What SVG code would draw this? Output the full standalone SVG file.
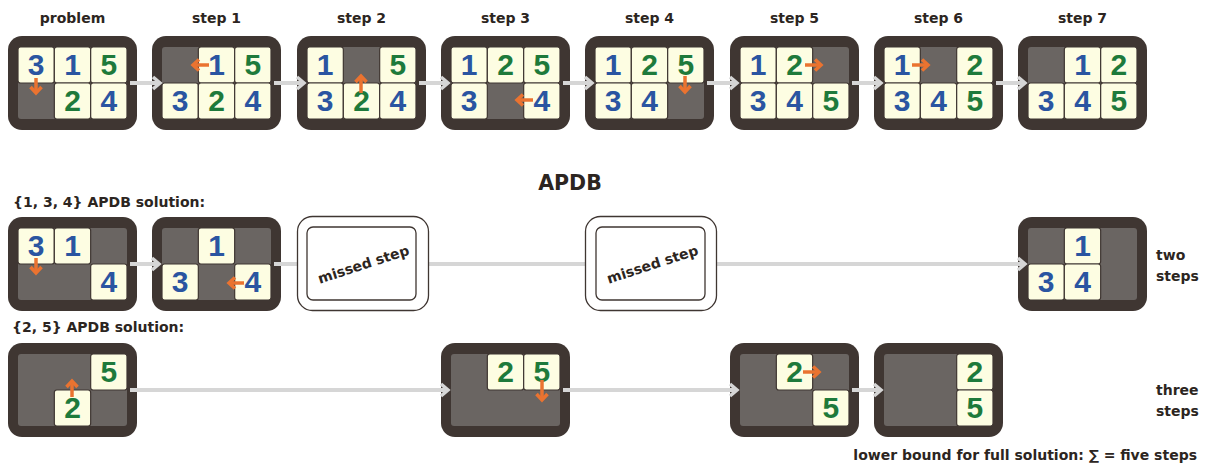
<svg xmlns="http://www.w3.org/2000/svg" width="1211" height="466" viewBox="0 0 1211 466">
<style>
.bd{fill:#3f3632}
.in{fill:#6a6562}
.t{fill:#fdfde2;stroke:#3f3632;stroke-width:1.2}
.n{font-family:"Liberation Sans",Arial,sans-serif;font-weight:bold;font-size:30px;text-anchor:middle}
.b{fill:#2a55a1}
.g{fill:#1e7a3b}
.lb{font-family:"DejaVu Sans",Verdana,sans-serif;font-weight:bold;font-size:14px;fill:#2c2521}
.c{text-anchor:middle}
.ti{font-size:20.5px}
.cn{stroke:#d6d6d6;stroke-width:4;fill:none;marker-end:url(#chev)}
.oa{stroke:#ea7330;stroke-width:3.5;fill:none;marker-end:url(#oh)}
.ms{fill:#fff;stroke:#3f3632;stroke-width:1.3}
</style>
<defs>
<marker id="chev" viewBox="-10 -9 14 18" refX="0" refY="0" markerWidth="14" markerHeight="18" markerUnits="userSpaceOnUse" orient="auto">
<path d="M-7,-6 L0,0 L-7,6" fill="none" stroke="#d6d6d6" stroke-width="3.5"/>
</marker>
<marker id="oh" viewBox="-10 -9 14 18" refX="0" refY="0" markerWidth="14" markerHeight="18" markerUnits="userSpaceOnUse" orient="auto">
<path d="M-6,-5.5 L0,0 L-6,5.5" fill="none" stroke="#ea7330" stroke-width="3.5"/>
</marker>
</defs>
<rect width="1211" height="466" fill="#fff"/>

<g id="labels">
<text class="lb c" x="72.5" y="23">problem</text>
<text class="lb c" x="216.5" y="23">step 1</text>
<text class="lb c" x="361.5" y="23">step 2</text>
<text class="lb c" x="505.5" y="23">step 3</text>
<text class="lb c" x="649.5" y="23">step 4</text>
<text class="lb c" x="794.5" y="23">step 5</text>
<text class="lb c" x="938.5" y="23">step 6</text>
<text class="lb c" x="1082.5" y="23">step 7</text>
<text class="lb c ti" x="570" y="190">APDB</text>
<text class="lb" x="13" y="207">{1, 3, 4} APDB solution:</text>
<text class="lb" x="12" y="332">{2, 5} APDB solution:</text>
<text class="lb" x="1156" y="260">two</text>
<text class="lb" x="1156" y="281">steps</text>
<text class="lb" x="1156" y="395">three</text>
<text class="lb" x="1156" y="416">steps</text>
<text class="lb" x="1197" y="460" text-anchor="end">lower bound for full solution: ∑ = five steps</text>
</g>

<!-- Row 1 -->
<g id="problem" transform="translate(8,36)">
<rect class="bd" width="129" height="94" rx="14"/><rect class="in" x="10" y="11" width="109" height="72" rx="3"/>
<rect class="t" x="10" y="11" width="36.33" height="36" rx="2.5"/><text class="n b" x="28.2" y="39">3</text>
<rect class="t" x="46.33" y="11" width="36.33" height="36" rx="2.5"/><text class="n b" x="64.5" y="39">1</text>
<rect class="t" x="82.67" y="11" width="36.33" height="36" rx="2.5"/><text class="n g" x="100.8" y="39">5</text>
<rect class="t" x="46.33" y="47" width="36.33" height="36" rx="2.5"/><text class="n g" x="64.5" y="75">2</text>
<rect class="t" x="82.67" y="47" width="36.33" height="36" rx="2.5"/><text class="n b" x="100.8" y="75">4</text>
<path class="oa" d="M28,42 V57"/>
</g>
<g id="step1" transform="translate(152,36)">
<rect class="bd" width="129" height="94" rx="14"/><rect class="in" x="10" y="11" width="109" height="72" rx="3"/>
<rect class="t" x="46.33" y="11" width="36.33" height="36" rx="2.5"/><text class="n b" x="64.5" y="39">1</text>
<rect class="t" x="82.67" y="11" width="36.33" height="36" rx="2.5"/><text class="n g" x="100.8" y="39">5</text>
<rect class="t" x="10" y="47" width="36.33" height="36" rx="2.5"/><text class="n b" x="28.2" y="75">3</text>
<rect class="t" x="46.33" y="47" width="36.33" height="36" rx="2.5"/><text class="n g" x="64.5" y="75">2</text>
<rect class="t" x="82.67" y="47" width="36.33" height="36" rx="2.5"/><text class="n b" x="100.8" y="75">4</text>
<path class="oa" d="M57,29 H41"/>
</g>
<g id="step2" transform="translate(297,36)">
<rect class="bd" width="129" height="94" rx="14"/><rect class="in" x="10" y="11" width="109" height="72" rx="3"/>
<rect class="t" x="10" y="11" width="36.33" height="36" rx="2.5"/><text class="n b" x="28.2" y="39">1</text>
<rect class="t" x="82.67" y="11" width="36.33" height="36" rx="2.5"/><text class="n g" x="100.8" y="39">5</text>
<rect class="t" x="10" y="47" width="36.33" height="36" rx="2.5"/><text class="n b" x="28.2" y="75">3</text>
<rect class="t" x="46.33" y="47" width="36.33" height="36" rx="2.5"/><text class="n g" x="64.5" y="75">2</text>
<rect class="t" x="82.67" y="47" width="36.33" height="36" rx="2.5"/><text class="n b" x="100.8" y="75">4</text>
<path class="oa" d="M64,57 V40"/>
</g>
<g id="step3" transform="translate(441,36)">
<rect class="bd" width="129" height="94" rx="14"/><rect class="in" x="10" y="11" width="109" height="72" rx="3"/>
<rect class="t" x="10" y="11" width="36.33" height="36" rx="2.5"/><text class="n b" x="28.2" y="39">1</text>
<rect class="t" x="46.33" y="11" width="36.33" height="36" rx="2.5"/><text class="n g" x="64.5" y="39">2</text>
<rect class="t" x="82.67" y="11" width="36.33" height="36" rx="2.5"/><text class="n g" x="100.8" y="39">5</text>
<rect class="t" x="10" y="47" width="36.33" height="36" rx="2.5"/><text class="n b" x="28.2" y="75">3</text>
<rect class="t" x="82.67" y="47" width="36.33" height="36" rx="2.5"/><text class="n b" x="100.8" y="75">4</text>
<path class="oa" d="M92,64 H76"/>
</g>
<g id="step4" transform="translate(585,36)">
<rect class="bd" width="129" height="94" rx="14"/><rect class="in" x="10" y="11" width="109" height="72" rx="3"/>
<rect class="t" x="10" y="11" width="36.33" height="36" rx="2.5"/><text class="n b" x="28.2" y="39">1</text>
<rect class="t" x="46.33" y="11" width="36.33" height="36" rx="2.5"/><text class="n g" x="64.5" y="39">2</text>
<rect class="t" x="82.67" y="11" width="36.33" height="36" rx="2.5"/><text class="n g" x="100.8" y="39">5</text>
<rect class="t" x="10" y="47" width="36.33" height="36" rx="2.5"/><text class="n b" x="28.2" y="75">3</text>
<rect class="t" x="46.33" y="47" width="36.33" height="36" rx="2.5"/><text class="n b" x="64.5" y="75">4</text>
<path class="oa" d="M100,40 V56"/>
</g>
<g id="step5" transform="translate(730,36)">
<rect class="bd" width="129" height="94" rx="14"/><rect class="in" x="10" y="11" width="109" height="72" rx="3"/>
<rect class="t" x="10" y="11" width="36.33" height="36" rx="2.5"/><text class="n b" x="28.2" y="39">1</text>
<rect class="t" x="46.33" y="11" width="36.33" height="36" rx="2.5"/><text class="n g" x="64.5" y="39">2</text>
<rect class="t" x="10" y="47" width="36.33" height="36" rx="2.5"/><text class="n b" x="28.2" y="75">3</text>
<rect class="t" x="46.33" y="47" width="36.33" height="36" rx="2.5"/><text class="n b" x="64.5" y="75">4</text>
<rect class="t" x="82.67" y="47" width="36.33" height="36" rx="2.5"/><text class="n g" x="100.8" y="75">5</text>
<path class="oa" d="M75,29 H91"/>
</g>
<g id="step6" transform="translate(874,36)">
<rect class="bd" width="129" height="94" rx="14"/><rect class="in" x="10" y="11" width="109" height="72" rx="3"/>
<rect class="t" x="10" y="11" width="36.33" height="36" rx="2.5"/><text class="n b" x="28.2" y="39">1</text>
<rect class="t" x="82.67" y="11" width="36.33" height="36" rx="2.5"/><text class="n g" x="100.8" y="39">2</text>
<rect class="t" x="10" y="47" width="36.33" height="36" rx="2.5"/><text class="n b" x="28.2" y="75">3</text>
<rect class="t" x="46.33" y="47" width="36.33" height="36" rx="2.5"/><text class="n b" x="64.5" y="75">4</text>
<rect class="t" x="82.67" y="47" width="36.33" height="36" rx="2.5"/><text class="n g" x="100.8" y="75">5</text>
<path class="oa" d="M38,29 H54"/>
</g>
<g id="step7" transform="translate(1018,36)">
<rect class="bd" width="129" height="94" rx="14"/><rect class="in" x="10" y="11" width="109" height="72" rx="3"/>
<rect class="t" x="46.33" y="11" width="36.33" height="36" rx="2.5"/><text class="n b" x="64.5" y="39">1</text>
<rect class="t" x="82.67" y="11" width="36.33" height="36" rx="2.5"/><text class="n g" x="100.8" y="39">2</text>
<rect class="t" x="10" y="47" width="36.33" height="36" rx="2.5"/><text class="n b" x="28.2" y="75">3</text>
<rect class="t" x="46.33" y="47" width="36.33" height="36" rx="2.5"/><text class="n b" x="64.5" y="75">4</text>
<rect class="t" x="82.67" y="47" width="36.33" height="36" rx="2.5"/><text class="n g" x="100.8" y="75">5</text>
</g>

<!-- Row 2 -->
<g id="apdb134-a" transform="translate(8,217)">
<rect class="bd" width="129" height="94" rx="14"/><rect class="in" x="10" y="11" width="109" height="72" rx="3"/>
<rect class="t" x="10" y="11" width="36.33" height="36" rx="2.5"/><text class="n b" x="28.2" y="39">3</text>
<rect class="t" x="46.33" y="11" width="36.33" height="36" rx="2.5"/><text class="n b" x="64.5" y="39">1</text>
<rect class="t" x="82.67" y="47" width="36.33" height="36" rx="2.5"/><text class="n b" x="100.8" y="75">4</text>
<path class="oa" d="M28,41 V56"/>
</g>
<g id="apdb134-b" transform="translate(152,217)">
<rect class="bd" width="129" height="94" rx="14"/><rect class="in" x="10" y="11" width="109" height="72" rx="3"/>
<rect class="t" x="46.33" y="11" width="36.33" height="36" rx="2.5"/><text class="n b" x="64.5" y="39">1</text>
<rect class="t" x="10" y="47" width="36.33" height="36" rx="2.5"/><text class="n b" x="28.2" y="75">3</text>
<rect class="t" x="82.67" y="47" width="36.33" height="36" rx="2.5"/><text class="n b" x="100.8" y="75">4</text>
<path class="oa" d="M92,66 H77"/>
</g>
<g id="apdb134-c" transform="translate(1018,217)">
<rect class="bd" width="129" height="94" rx="14"/><rect class="in" x="10" y="11" width="109" height="72" rx="3"/>
<rect class="t" x="46.33" y="11" width="36.33" height="36" rx="2.5"/><text class="n b" x="64.5" y="39">1</text>
<rect class="t" x="10" y="47" width="36.33" height="36" rx="2.5"/><text class="n b" x="28.2" y="75">3</text>
<rect class="t" x="46.33" y="47" width="36.33" height="36" rx="2.5"/><text class="n b" x="64.5" y="75">4</text>
</g>

<!-- Row 3 -->
<g id="apdb25-a" transform="translate(8,343)">
<rect class="bd" width="129" height="94" rx="14"/><rect class="in" x="10" y="11" width="109" height="72" rx="3"/>
<rect class="t" x="82.67" y="11" width="36.33" height="36" rx="2.5"/><text class="n g" x="100.8" y="39">5</text>
<rect class="t" x="46.33" y="47" width="36.33" height="36" rx="2.5"/><text class="n g" x="64.5" y="75">2</text>
<path class="oa" d="M64,54 V38"/>
</g>
<g id="apdb25-b" transform="translate(441,343)">
<rect class="bd" width="129" height="94" rx="14"/><rect class="in" x="10" y="11" width="109" height="72" rx="3"/>
<rect class="t" x="46.33" y="11" width="36.33" height="36" rx="2.5"/><text class="n g" x="64.5" y="39">2</text>
<rect class="t" x="82.67" y="11" width="36.33" height="36" rx="2.5"/><text class="n g" x="100.8" y="39">5</text>
<path class="oa" d="M101,37 V57"/>
</g>
<g id="apdb25-c" transform="translate(730,343)">
<rect class="bd" width="129" height="94" rx="14"/><rect class="in" x="10" y="11" width="109" height="72" rx="3"/>
<rect class="t" x="46.33" y="11" width="36.33" height="36" rx="2.5"/><text class="n g" x="64.5" y="39">2</text>
<rect class="t" x="82.67" y="47" width="36.33" height="36" rx="2.5"/><text class="n g" x="100.8" y="75">5</text>
<path class="oa" d="M73,29 H89"/>
</g>
<g id="apdb25-d" transform="translate(874,343)">
<rect class="bd" width="129" height="94" rx="14"/><rect class="in" x="10" y="11" width="109" height="72" rx="3"/>
<rect class="t" x="82.67" y="11" width="36.33" height="36" rx="2.5"/><text class="n g" x="100.8" y="39">2</text>
<rect class="t" x="82.67" y="47" width="36.33" height="36" rx="2.5"/><text class="n g" x="100.8" y="75">5</text>
</g>

<g id="connectors">
<path class="cn" d="M130,83 H160"/>
<path class="cn" d="M274,83 H304"/>
<path class="cn" d="M419,83 H448"/>
<path class="cn" d="M563,83 H592"/>
<path class="cn" d="M707,83 H737"/>
<path class="cn" d="M852,83 H881"/>
<path class="cn" d="M996,83 H1025"/>
<path class="cn" d="M130,264 H159"/>
<path class="cn" d="M274,264 H1025"/>
<path class="cn" d="M130,390 H448"/>
<path class="cn" d="M563,390 H737"/>
<path class="cn" d="M852,390 H881"/>
</g>

<g id="missed1">
<rect class="ms" x="297.5" y="216.5" width="131" height="94" rx="15"/>
<rect class="ms" x="307" y="227" width="109" height="73" rx="6"/>
<text class="lb c" transform="translate(365,269) rotate(-18)">missed step</text>
</g>
<g id="missed2">
<rect class="ms" x="585.5" y="216.5" width="131" height="94" rx="15"/>
<rect class="ms" x="596" y="227" width="109" height="73" rx="6"/>
<text class="lb c" transform="translate(654,269) rotate(-18)">missed step</text>
</g>
</svg>
